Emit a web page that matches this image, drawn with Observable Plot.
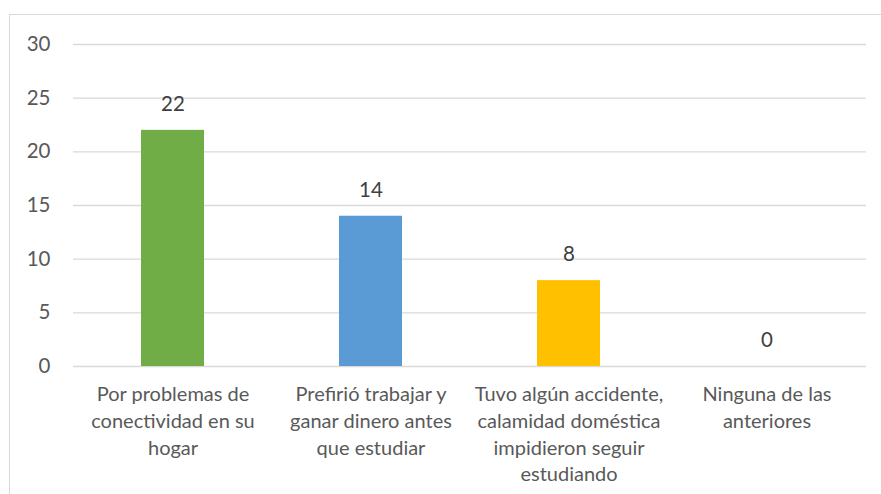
<!DOCTYPE html>
<html>
<head>
<meta charset="utf-8">
<script src="https://cdn.jsdelivr.net/npm/d3@7"></script>
<script src="https://cdn.jsdelivr.net/npm/@observablehq/plot@0.6"></script>
<style>
  html, body { margin: 0; padding: 0; background: #fff; }
  #wrap { position: relative; width: 881px; height: 494px; overflow: hidden; }
  #border { position: absolute; left: 9px; top: 14px; width: 880px; height: 490px; border: 1px solid #d9d9d9; box-sizing: border-box; pointer-events: none; }
  #chart { position: absolute; left: 0; top: 0; }
</style>
</head>
<body>
<div id="wrap"><div id="chart"></div><div id="border"></div></div>
<script>
const categories = [
  "Por problemas de conectividad en su hogar",
  "Prefirió trabajar y ganar dinero antes que estudiar",
  "Tuvo algún accidente, calamidad doméstica impidieron seguir estudiando",
  "Ninguna de las anteriores"
];
const tickLabels = [
  "Por problemas de\nconectividad en su\nhogar",
  "Prefirió trabajar y\nganar dinero antes\nque estudiar",
  "Tuvo algún accidente,\ncalamidad doméstica\nimpidieron seguir\nestudiando",
  "Ninguna de las\nanteriores"
];
const values = [22, 14, 8, 0];
const colors = ["#70AD47", "#5B9BD5", "#FFC000", "#A5A5A5"];
const yTicks = [0, 5, 10, 15, 20, 25, 30];

const data = categories.map((c, i) => ({category: c, value: values[i], color: colors[i]}));
const labelOf = new Map(categories.map((c, i) => [c, tickLabels[i]]));

const font = "Lato, 'Open Sans', sans-serif";

const chart = Plot.plot({
  width: 881,
  height: 494,
  marginLeft: 73,
  marginRight: 15,
  marginTop: 44,
  marginBottom: 128,
  style: {fontFamily: font, fontSize: "20px", color: "#595959", background: "transparent"},
  x: {domain: categories, paddingInner: 0.68, paddingOuter: 0.34, label: null},
  y: {domain: [0, 30], label: null},
  marks: [
    Plot.ruleY(yTicks, {stroke: "#d9d9d9", strokeWidth: 1.3}),
    Plot.barY(data, {x: "category", y: "value", fill: "color"}),
    Plot.text(data, {x: "category", y: "value", text: d => String(d.value), dy: -26, lineAnchor: "middle", fill: "#404040", fontSize: 20.5}),
    Plot.axisY({ticks: yTicks, tickSize: 0, tickPadding: 23, fontSize: 20.5, fill: "#595959", label: null}),
    Plot.axisX({tickSize: 0, tickPadding: 16, tickFormat: d => labelOf.get(d), lineHeight: 1.33, fontSize: 20, fill: "#595959", label: null, textAnchor: "middle"})
  ]
});
document.getElementById("chart").appendChild(chart);
</script>
</body>
</html>
